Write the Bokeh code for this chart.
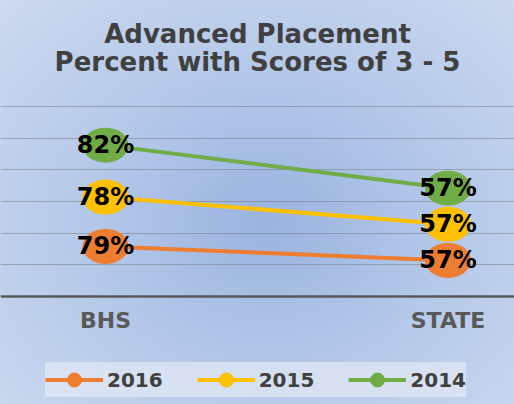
import numpy as np
from bokeh.plotting import figure
from bokeh.models import (ColumnDataSource, Range1d, FixedTicker, Legend, LegendItem,
                          LabelSet, Label, Grid, Span, InlineStyleSheet)
from bokeh.embed import file_html
from bokeh.resources import INLINE
from bokeh.core.properties import value

# ---- data ----
categories = ["BHS", "STATE"]
series_names = ["2016", "2015", "2014"]
values_2016 = [79, 57]
values_2015 = [78, 57]
values_2014 = [82, 57]
series_colors = ["#ED7D31", "#FFC000", "#70AD47"]
title_lines = ["Advanced Placement", "Percent with Scores of 3 - 5"]
y_ticks = [50, 100, 150, 200, 250, 300]

series_values = [values_2016, values_2015, values_2014]
stacked = np.cumsum(np.array(series_values), axis=0)  # stacked line chart
x_pos = list(range(len(categories)))

W, H = 514, 404
k = 190 / 300.0           # px per unit
x_px = 342.5              # px per category step
x0 = -105 / x_px
y0 = -(H - 296) / k
p = figure(width=W, height=H, output_backend="svg", toolbar_location=None,
           x_range=Range1d(x0, x0 + W / x_px), y_range=Range1d(y0, y0 + H / k),
           x_axis_location=None, y_axis_location=None,
           min_border_left=0, min_border_right=0, min_border_top=0, min_border_bottom=0)
p.background_fill_alpha = 0
p.border_fill_alpha = 0
p.outline_line_color = None
p.stylesheets = [InlineStyleSheet(css=":host { background: radial-gradient(ellipse farthest-corner at 52% 55%, #99b3e0 0%, #b3c7e8 45%, #cedbf0 100%); }")]

p.xgrid.visible = False
p.ygrid.visible = False
p.add_layout(Grid(dimension=1, ticker=FixedTicker(ticks=y_ticks),
                  grid_line_color="#6e6e6e", grid_line_alpha=0.45, grid_line_width=1))
p.add_layout(Span(location=0, dimension="width", line_color="#595959", line_width=2.5))

# category labels
cat_src = ColumnDataSource(dict(x=x_pos, y=[-50.5] * len(categories), text=categories))
p.add_layout(LabelSet(x='x', y='y', text='text', source=cat_src, text_align='center',
                      text_baseline='alphabetic', text_font=value("DejaVu Sans"),
                      text_font_style="bold", text_font_size="22px", text_color="#595959"))

items = []
for name, vals, cum, col in zip(series_names, series_values, stacked, series_colors):
    src = ColumnDataSource(dict(x=x_pos, y=list(cum), label=[f"{v}%" for v in vals]))
    lr = p.line('x', 'y', source=src, line_color=col, line_width=4)
    dr = p.scatter('x', 'y', source=src, size=13, color=col)
    p.ellipse('x', 'y', width=46, height=35, width_units="screen", height_units="screen",
              source=src, fill_color=col, line_color=None)
    p.add_layout(LabelSet(x='x', y='y', text='label', source=src, text_align='center',
                          text_baseline='middle', text_font=value("DejaVu Sans"),
                          text_font_style="bold", text_font_size="24px", text_color="black"))
    items.append(LegendItem(label=name, renderers=[lr, dr]))

legend = Legend(items=items, orientation="horizontal", location=(45, 7),
                background_fill_color="#e3e9f5", background_fill_alpha=0.7,
                border_line_color=None, label_text_font="DejaVu Sans",
                label_text_font_style="bold", label_text_font_size="20px",
                label_text_color="#404040", glyph_width=58, glyph_height=35,
                label_height=35, spacing=34, padding=0, margin=0, label_standoff=4)
p.add_layout(legend, "center")

for txt, yv in zip(title_lines, [413.7, 371.0]):
    p.add_layout(Label(x=0.4438, y=yv, text=txt, text_align="center",
                       text_baseline="alphabetic", text_font="DejaVu Sans",
                       text_font_style="bold", text_font_size="26px", text_color="#404040"))

open("out.html", "w").write(file_html(p, INLINE))
